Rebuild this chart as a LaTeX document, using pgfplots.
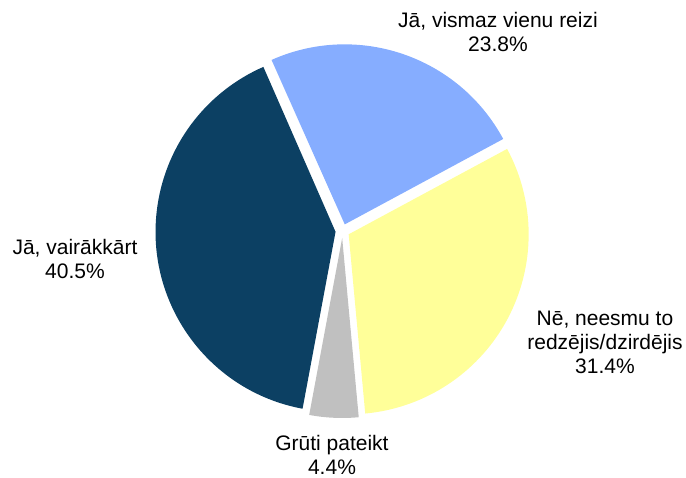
\documentclass[border=0pt]{standalone}
\usepackage{pgfplots}
\usepackage{pgfplotstable}
\pgfplotsset{compat=1.18}
\usepackage{fontspec}
\setmainfont{Liberation Sans}

\definecolor{cBlue}{HTML}{86ADFF}
\definecolor{cYellow}{HTML}{FFFF99}
\definecolor{cGray}{HTML}{C0C0C0}
\definecolor{cNavy}{HTML}{0C4063}

% shares in percent, clockwise from the start angle
\pgfplotstableread{
value
23.8
31.4
4.4
40.5
}\piedata

\begin{document}
\begin{tikzpicture}
\useasboundingbox (0,0) rectangle (686pt,478pt);
\pgfplotstablegetelem{0}{value}\of\piedata \let\vA\pgfplotsretval
\pgfplotstablegetelem{1}{value}\of\piedata \let\vB\pgfplotsretval
\pgfplotstablegetelem{2}{value}\of\piedata \let\vC\pgfplotsretval
\pgfplotstablegetelem{3}{value}\of\piedata \let\vD\pgfplotsretval
\def\cx{342.5}\def\cy{247}\def\rad{180}\def\off{7}
% slice boundaries (degrees)
\pgfmathsetmacro{\aA}{114}
\pgfmathsetmacro{\aB}{\aA-3.6*\vA}
\pgfmathsetmacro{\aC}{\aB-3.6*\vB}
\pgfmathsetmacro{\aD}{\aC-3.6*\vC}
\pgfmathsetmacro{\aE}{\aD-3.6*\vD}
% apex of each exploded slice
\pgfmathsetmacro{\xA}{\cx+\off*cos((\aA+\aB)/2)}\pgfmathsetmacro{\yA}{\cy+\off*sin((\aA+\aB)/2)}
\pgfmathsetmacro{\xB}{\cx+\off*cos((\aB+\aC)/2)}\pgfmathsetmacro{\yB}{\cy+\off*sin((\aB+\aC)/2)}
\pgfmathsetmacro{\xC}{\cx+\off*cos((\aC+\aD)/2)}\pgfmathsetmacro{\yC}{\cy+\off*sin((\aC+\aD)/2)}
\pgfmathsetmacro{\xD}{\cx+\off*cos((\aD+\aE)/2)}\pgfmathsetmacro{\yD}{\cy+\off*sin((\aD+\aE)/2)}
\begin{axis}[
    at={(0,0)}, anchor=origin,
    scale only axis, width=686pt, height=478pt,
    xmin=0, xmax=686, ymin=0, ymax=478,
    hide axis, clip=false,
]
\fill[cBlue] (axis cs:\xA,\yA) -- ++(\aA:\rad pt) arc[start angle=\aA, end angle=\aB, radius=\rad pt] -- cycle;
\fill[cYellow] (axis cs:\xB,\yB) -- ++(\aB:\rad pt) arc[start angle=\aB, end angle=\aC, radius=\rad pt] -- cycle;
\fill[cGray] (axis cs:\xC,\yC) -- ++(\aC:\rad pt) arc[start angle=\aC, end angle=\aD, radius=\rad pt] -- cycle;
\fill[cNavy] (axis cs:\xD,\yD) -- ++(\aD:\rad pt) arc[start angle=\aD, end angle=\aE, radius=\rad pt] -- cycle;

\begin{scope}[every node/.style={align=center, font=\fontsize{21}{24}\selectfont, inner sep=0pt}]
\node at (axis cs:498,446) {Jā, vismaz vienu reizi\\23.8\%};
\node at (axis cs:605,136) {Nē, neesmu to\\redzējis/dzirdējis\\31.4\%};
\node at (axis cs:332,23) {Grūti pateikt\\4.4\%};
\node at (axis cs:75,219) {Jā, vairākkārt\\40.5\%};
\end{scope}
\end{axis}
\end{tikzpicture}
\end{document}
